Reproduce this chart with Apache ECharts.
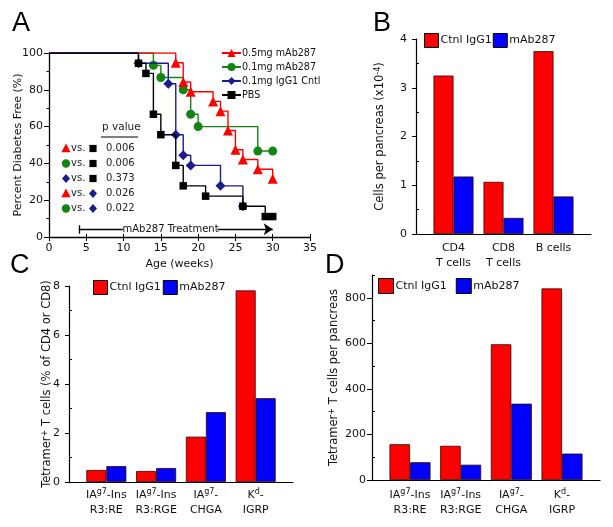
<!DOCTYPE html>
<html>
<head>
<meta charset="utf-8">
<script src="https://cdn.jsdelivr.net/npm/echarts@6.0.0/dist/echarts.min.js"></script>
<style>
html,body{margin:0;padding:0;background:#fff;}
#c{width:613px;height:527px;}
</style>
</head>
<body>
<div id="c"></div>
<script>
// ---------- Panel A data (Kaplan-Meier) ----------
const weeksRed   = [0, 17, 18, 19, 22, 23, 24, 25, 26, 28, 30];
const freeRed    = [100, 94.7, 84.2, 78.9, 73.7, 68.4, 57.9, 47.4, 42.1, 36.8, 31.6];
const weeksGreen = [0, 14, 15, 18, 19, 20, 28, 30];
const freeGreen  = [100, 93.3, 86.7, 80, 66.7, 60, 46.7, 46.7];
const weeksBlue  = [0, 12, 16, 17, 18, 19, 23, 26];
const freeBlue   = [100, 94.4, 83.3, 55.6, 44.4, 38.9, 27.8, 16.7];
const weeksPBS   = [0, 12, 13, 14, 15, 17, 18, 21, 26, 29, 30];
const freePBS    = [100, 94.4, 88.9, 66.7, 55.6, 38.9, 27.8, 22.2, 16.7, 11.1, 11.1];
const seriesNamesA = ['0.5mg mAb287', '0.1mg mAb287', '0.1mg IgG1 Cntl', 'PBS'];
const treatmentWeeks = [4, 30];
const treatmentLabel = 'mAb287 Treatment';
const pRows = [
  ['tri', 'sq', '0.006'],
  ['circ', 'sq', '0.006'],
  ['dia', 'sq', '0.373'],
  ['tri', 'dia', '0.026'],
  ['circ', 'dia', '0.022']
];

// ---------- Panel B data ----------
const catsB = ['CD4\nT cells', 'CD8\nT cells', 'B cells'];
const ctrlB = [3.25, 1.07, 3.75];
const mabB  = [1.18, 0.33, 0.77];

// ---------- Panel C / D data ----------
const catsCD = ['IA{s|g7}-Ins\nR3:RE', 'IA{s|g7}-Ins\nR3:RGE', 'IA{s|g7}-\nCHGA', 'K{s|d}-\nIGRP'];
const ctrlC = [0.49, 0.45, 1.85, 7.82];
const mabC  = [0.65, 0.57, 2.85, 3.42];
const ctrlD = [157, 150, 596, 841];
const mabD  = [78, 67, 335, 116];

const legendBars = ['Ctnl IgG1', 'mAb287'];

// ---------- styles ----------
const FONT = 'DejaVu Sans';
const RED = '#ff0000', GREEN = '#148414', NAVY = '#1c1c8f', BLACK = '#000000', BLUE = '#0000ff';
const symColor = {tri: RED, circ: GREEN, dia: NAVY, sq: BLACK};

function pairs(xs, ys) {
  return xs.map((x, i) => i === 0 ? {value: [x, ys[i]], symbol: 'none'} : [x, ys[i]]);
}
function idxPairs(ys) { return ys.map((v, i) => [i + 1, v]); }

const labelStyle = {fontFamily: FONT, fontSize: 11, color: '#111'};
const supRich = {s: {fontFamily: FONT, fontSize: 8, verticalAlign: 'top', lineHeight: 9, color: '#111'}};

function kmSeries(name, xs, ys, color, symbol, size, z) {
  return {
    type: 'line', name: name, xAxisIndex: 0, yAxisIndex: 0,
    step: 'end', data: pairs(xs, ys), color: color,
    symbol: symbol, symbolSize: size, showSymbol: true,
    lineStyle: {color: color, width: 1.4}, itemStyle: {color: color},
    z: z, animation: false
  };
}

function barSeries(name, ys, color, xi, yi, bw) {
  return {
    type: 'bar', name: name, xAxisIndex: xi, yAxisIndex: yi,
    data: idxPairs(ys), barWidth: bw, barGap: '0%',
    itemStyle: {color: color, borderColor: '#3a0000', borderWidth: 0.8},
    animation: false
  };
}

function valueCatX(gridIndex, n, names, margin, rich) {
  const vals = names.map((_, i) => i + 1);
  return {
    type: 'value', gridIndex: gridIndex, min: 0.25, max: n + 0.75,
    splitLine: {show: false},
    axisLine: {lineStyle: {color: '#000', width: 1.2}},
    axisTick: {show: false},
    axisLabel: Object.assign({
      margin: margin, customValues: vals, lineHeight: 15,
      formatter: v => names[Math.round(v) - 1] || '',
      rich: rich || {}
    }, labelStyle)
  };
}

function minorY(gridIndex, min, max, values) {
  return {
    type: 'value', gridIndex: gridIndex, min: min, max: max, position: 'left', offset: 0,
    axisLine: {show: false}, splitLine: {show: false},
    axisLabel: {show: false},
    axisTick: {show: true, inside: true, length: 3, customValues: values, lineStyle: {color: '#000'}}
  };
}

// ---------- p-value table graphics ----------
function symbolShape(kind, cx, cy) {
  const c = symColor[kind];
  if (kind === 'tri') return {type: 'polygon', shape: {points: [[cx, cy - 5], [cx - 4.6, cy + 3.8], [cx + 4.6, cy + 3.8]]}, style: {fill: c}};
  if (kind === 'circ') return {type: 'circle', shape: {cx: cx, cy: cy, r: 4.2}, style: {fill: c}};
  if (kind === 'dia') return {type: 'polygon', shape: {points: [[cx, cy - 4.5], [cx + 4, cy], [cx, cy + 4.5], [cx - 4, cy]]}, style: {fill: c}};
  return {type: 'rect', shape: {x: cx - 3.6, y: cy - 3.6, width: 7.2, height: 7.2}, style: {fill: c}};
}
const graphics = [];
graphics.push({type: 'text', left: 102, top: 122, style: {text: 'p value', fontFamily: FONT, fontSize: 10.5, fill: '#222'}});
graphics.push({type: 'line', shape: {x1: 101, y1: 137, x2: 138, y2: 137}, style: {stroke: '#000', lineWidth: 1.2}});
pRows.forEach((r, i) => {
  const cy = 148.5 + i * 15;
  graphics.push(symbolShape(r[0], 66, cy));
  graphics.push({type: 'text', x: 71, y: cy, style: {text: 'vs.', fontFamily: FONT, fontSize: 10, fill: '#222', verticalAlign: 'middle'}});
  graphics.push(symbolShape(r[1] === 'dia' ? 'dia' : 'sq', 93, cy));
  graphics.push({type: 'text', x: 106, y: cy, style: {text: r[2], fontFamily: FONT, fontSize: 10, fill: '#222', verticalAlign: 'middle'}});
});

const letterStyle = {fontFamily: 'Liberation Sans', fontSize: 27, fontWeight: 'normal', color: '#000'};
const barLegendText = {fontFamily: FONT, fontSize: 11, color: '#111', padding: [0, 0, 0, -3]};

const option = {
  backgroundColor: '#fff',
  animation: false,
  title: [
    {text: 'A', left: 12, top: 10, padding: 0, textStyle: letterStyle},
    {text: 'B', left: 373, top: 10, padding: 0, textStyle: letterStyle},
    {text: 'C', left: 10, top: 252, padding: 0, textStyle: letterStyle},
    {text: 'D', left: 325, top: 252, padding: 0, textStyle: letterStyle}
  ],
  grid: [
    {left: 49, top: 53, width: 261, height: 184},
    {left: 416, top: 39, width: 175, height: 195},
    {left: 69, top: 286, width: 224, height: 196},
    {left: 372, top: 275, width: 228, height: 205}
  ],
  legend: [
    {
      data: seriesNamesA, left: 221, top: 48, padding: 0, orient: 'vertical', itemGap: 4,
      itemWidth: 19, itemHeight: 10,
      textStyle: {fontFamily: FONT, fontSize: 9.6, color: '#111', padding: [0, 0, 0, -4]}
    },
    {
      data: legendBars, left: 424, top: 33, padding: 0, itemGap: 1, itemWidth: 14, itemHeight: 14, icon: 'rect',
      textStyle: barLegendText, itemStyle: {borderColor: '#000', borderWidth: 1}
    },
    {
      data: legendBars, left: 93, top: 280, padding: 0, itemGap: 2, itemWidth: 14, itemHeight: 14, icon: 'rect',
      textStyle: barLegendText, itemStyle: {borderColor: '#000', borderWidth: 1}
    },
    {
      data: legendBars, left: 378, top: 278, padding: 0, itemGap: 9, itemWidth: 15, itemHeight: 15, icon: 'rect',
      textStyle: barLegendText, itemStyle: {borderColor: '#000', borderWidth: 1}
    }
  ],
  xAxis: [
    { // 0: A main
      type: 'value', gridIndex: 0, min: 0, max: 35, interval: 5,
      name: 'Age (weeks)', nameLocation: 'middle', nameGap: 22, nameMoveOverlap: false,
      nameTextStyle: {fontFamily: FONT, fontSize: 11, color: '#111'},
      splitLine: {show: false},
      axisLine: {lineStyle: {color: '#000', width: 1.3}},
      axisTick: {length: 4, lineStyle: {color: '#000'}},
      axisLabel: Object.assign({margin: 6}, labelStyle)
    },
    { // 1: A inside ticks overlay
      type: 'value', gridIndex: 0, min: 0, max: 35, interval: 5, position: 'bottom', offset: 0,
      splitLine: {show: false}, axisLine: {show: false}, axisLabel: {show: false},
      axisTick: {inside: true, length: 3, lineStyle: {color: '#000'}}
    },
    valueCatX(1, 3, catsB, 7),       // 2: B
    valueCatX(2, 4, catsCD, 6, supRich), // 3: C
    valueCatX(3, 4, catsCD, 8, supRich)  // 4: D
  ],
  yAxis: [
    { // 0: A
      type: 'value', gridIndex: 0, min: 0, max: 100, interval: 20,
      name: 'Percent Diabetes Free (%)', nameLocation: 'middle', nameGap: 25, nameMoveOverlap: false,
      nameTextStyle: {fontFamily: FONT, fontSize: 11, color: '#111'},
      splitLine: {show: false},
      axisLine: {lineStyle: {color: '#000', width: 1.3}},
      axisTick: {length: 5, lineStyle: {color: '#000'}},
      minorTick: {show: true, splitNumber: 2, length: 2.5, lineStyle: {color: '#000'}},
      axisLabel: Object.assign({margin: 6}, labelStyle)
    },
    { // 1: B main
      type: 'value', gridIndex: 1, min: 0, max: 4, interval: 1,
      name: 'Cells per pancreas (x10{s|-4})', nameLocation: 'middle', nameGap: 30, nameMoveOverlap: false,
      nameTextStyle: {fontFamily: FONT, fontSize: 11.5, color: '#111', rich: supRich},
      splitLine: {show: false},
      axisLine: {lineStyle: {color: '#000', width: 1.2}},
      axisTick: {length: 4, lineStyle: {color: '#000'}},
      axisLabel: Object.assign({margin: 9}, labelStyle)
    },
    minorY(1, 0, 4, [0.5, 1.5, 2.5, 3.5]), // 2
    { // 3: C main
      type: 'value', gridIndex: 2, min: 0, max: 8, interval: 2,
      name: 'Tetramer{s|+} T cells (% of CD4 or CD8)', nameLocation: 'middle', nameGap: 16, nameMoveOverlap: false,
      nameTextStyle: {fontFamily: FONT, fontSize: 11.5, color: '#111', rich: supRich},
      splitLine: {show: false},
      axisLine: {lineStyle: {color: '#000', width: 1.2}},
      axisTick: {length: 4, lineStyle: {color: '#000'}},
      axisLabel: Object.assign({margin: 9}, labelStyle)
    },
    minorY(2, 0, 8, [1, 3, 5, 7]), // 4
    { // 5: D main
      type: 'value', gridIndex: 3, min: 0, max: 900,
      name: 'Tetramer{s|+} T cells per pancreas', nameLocation: 'middle', nameGap: 32, nameMoveOverlap: false,
      nameTextStyle: {fontFamily: FONT, fontSize: 11.5, color: '#111', rich: supRich},
      splitLine: {show: false},
      axisLine: {lineStyle: {color: '#000', width: 1.2}},
      axisTick: {length: 5, customValues: [0, 200, 400, 600, 800], lineStyle: {color: '#000'}},
      axisLabel: Object.assign({margin: 6, customValues: [0, 200, 400, 600, 800]}, labelStyle)
    },
    minorY(3, 0, 900, [100, 300, 500, 700, 900]) // 6
  ],
  graphic: graphics,
  series: [
    kmSeries(seriesNamesA[1], weeksGreen, freeGreen, GREEN, 'circle', 9, 2),
    kmSeries(seriesNamesA[0], weeksRed, freeRed, RED, 'triangle', 10, 3),
    kmSeries(seriesNamesA[2], weeksBlue, freeBlue, NAVY, 'diamond', 10, 4),
    Object.assign(kmSeries(seriesNamesA[3], weeksPBS, freePBS, BLACK, 'rect', 7.5, 5), {
      markLine: {
        silent: true, animation: false,
        lineStyle: {color: '#000', width: 1.3, type: 'solid'},
        label: {show: false},
        data: [
          [{coord: [treatmentWeeks[0], 4.2], symbol: 'none'},
           {coord: [9.9, 4.2], symbol: 'none'}],
          [{coord: [22.6, 4.2], symbol: 'none'},
           {coord: [treatmentWeeks[1], 4.2], symbol: 'arrow', symbolSize: 9}],
          [{coord: [treatmentWeeks[0], 1.8], symbol: 'none'},
           {coord: [treatmentWeeks[0], 6.4], symbol: 'none'}]
        ]
      },
      markPoint: {
        silent: true, animation: false,
        symbol: 'circle', symbolSize: 0,
        label: {show: true, position: 'inside', formatter: treatmentLabel,
                fontFamily: FONT, fontSize: 10, color: '#111'},
        data: [{coord: [16.3, 4.2]}]
      }
    }),
    barSeries(legendBars[0], ctrlB, RED, 2, 1, 20),
    barSeries(legendBars[1], mabB, BLUE, 2, 1, 20),
    barSeries(legendBars[0], ctrlC, RED, 3, 3, 20),
    barSeries(legendBars[1], mabC, BLUE, 3, 3, 20),
    barSeries(legendBars[0], ctrlD, RED, 4, 5, 20.5),
    barSeries(legendBars[1], mabD, BLUE, 4, 5, 20.5)
  ]
};

const chart = echarts.init(document.getElementById('c'), null, {renderer: 'canvas'});
chart.setOption(option);
</script>
</body>
</html>
